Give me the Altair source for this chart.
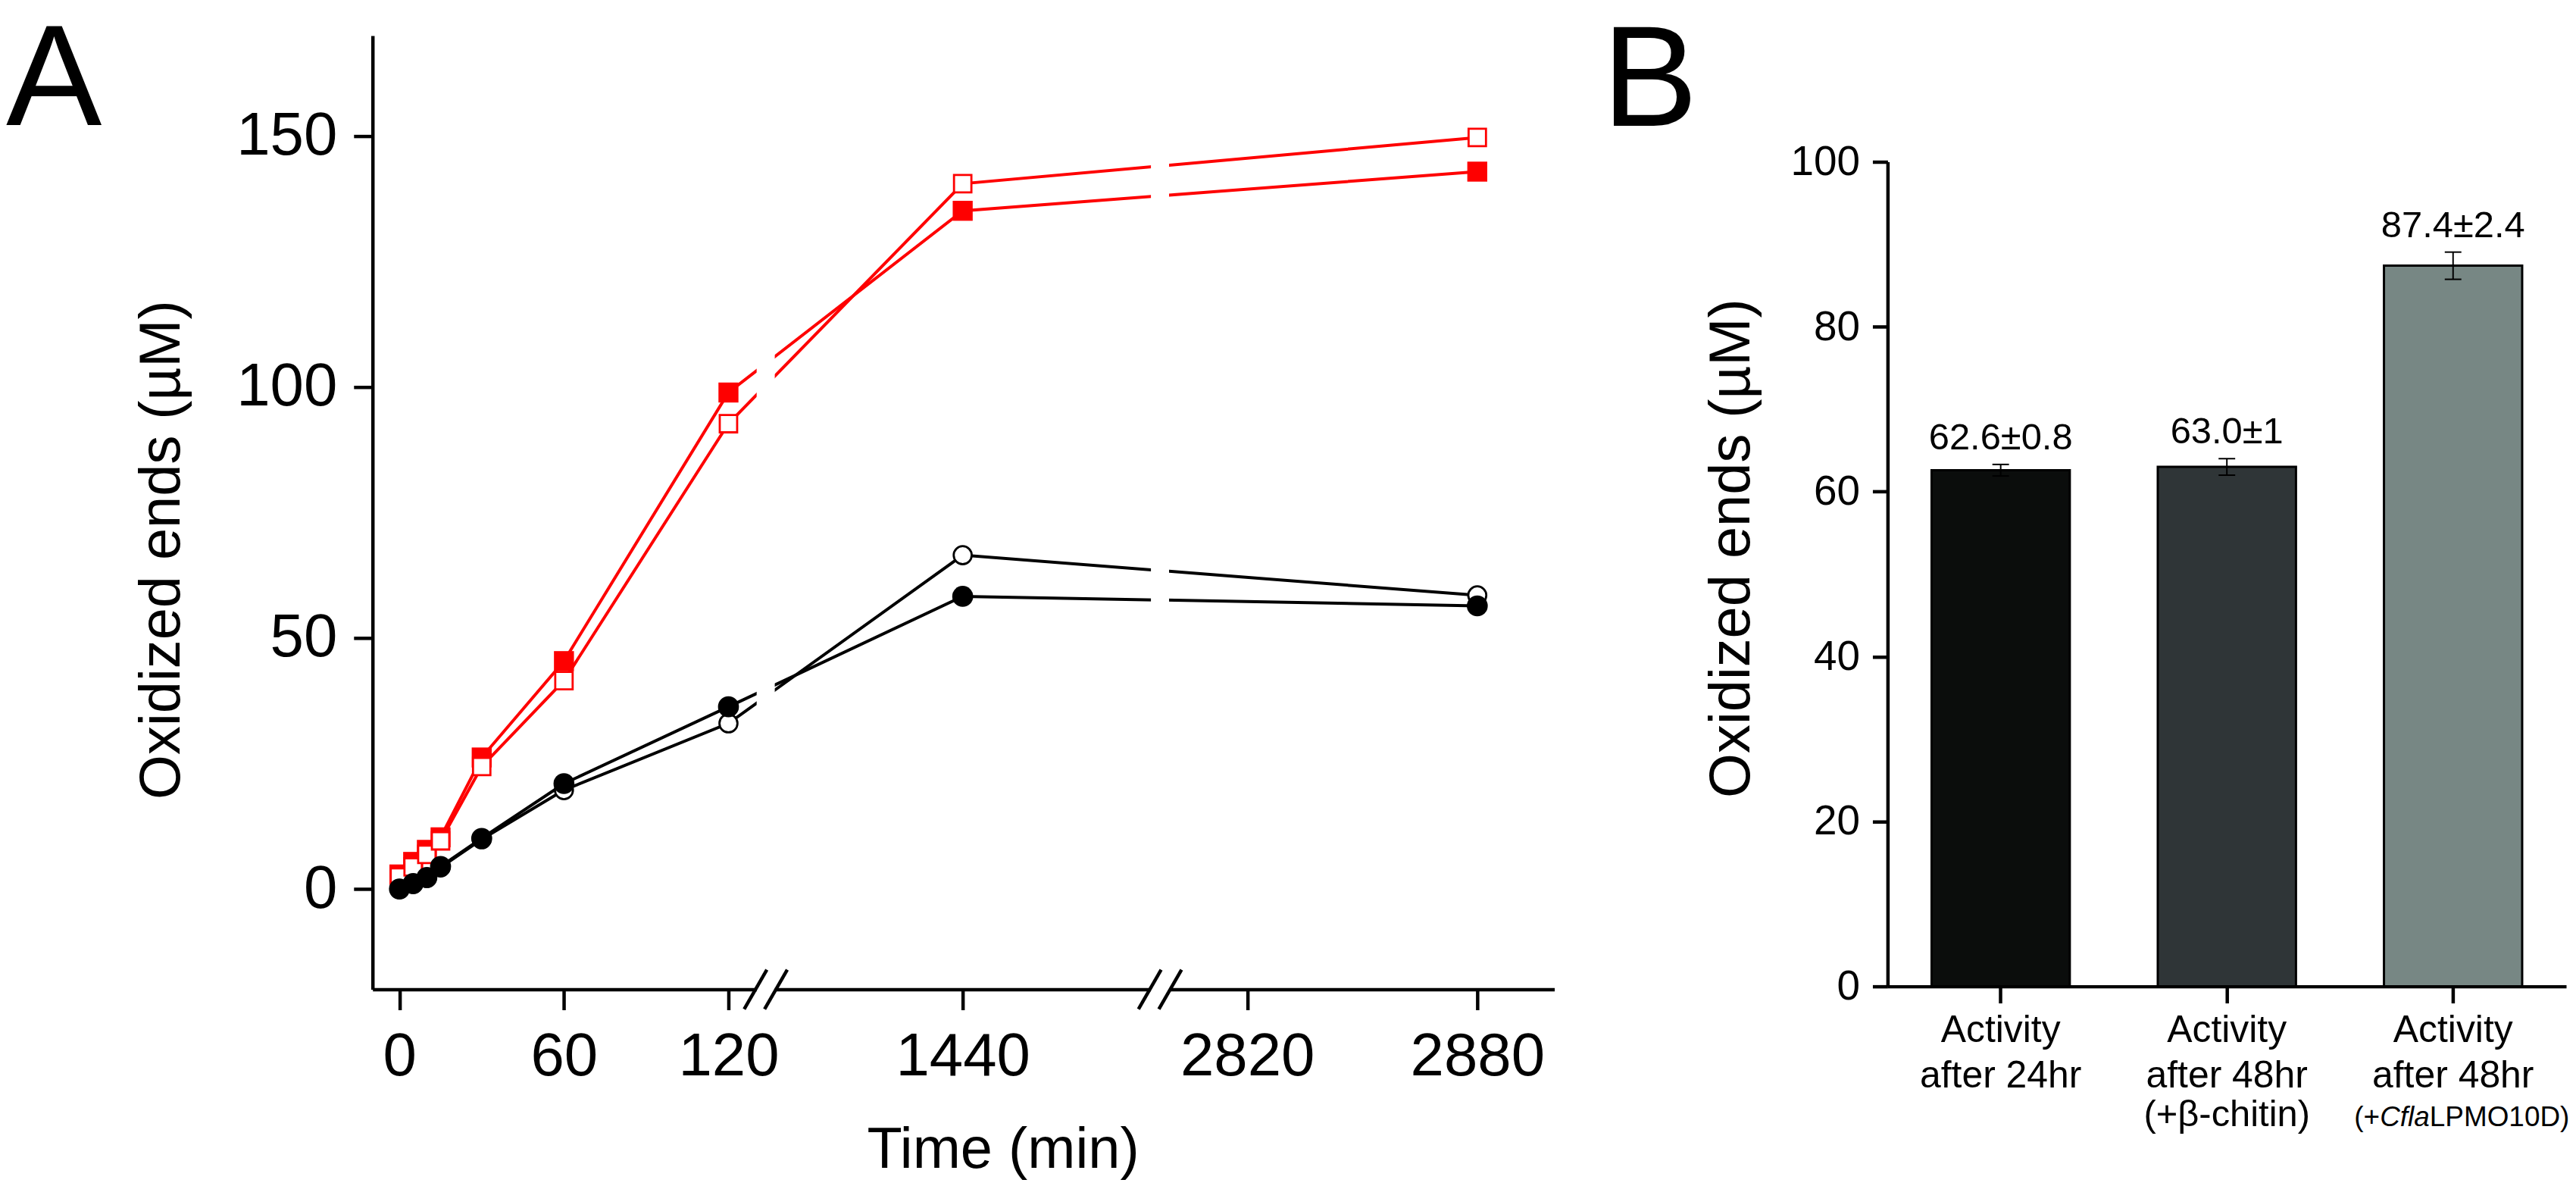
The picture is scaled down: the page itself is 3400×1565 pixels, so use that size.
import altair as alt
import pandas as pd

FONT = "Liberation Sans"
RED = "#fe0000"
BLACK = "#000000"

# ---------------- Panel A data ----------------
TIMES = [0, 5, 10, 15, 30, 60, 120, 1440, 2880]
RED_FILLED = [2.9, 5.4, 7.8, 10.3, 26.2, 45.4, 98.9, 135.1, 142.9]
RED_OPEN = [2.4, 4.4, 6.9, 9.6, 24.4, 41.5, 92.7, 140.5, 149.7]
BLACK_FILLED = [0.0, 1.1, 2.3, 4.5, 10.1, 21.0, 36.3, 58.3, 56.4]
BLACK_OPEN = [0.0, 1.0, 2.2, 4.3, 9.9, 19.7, 33.0, 66.5, 58.5]
SERIES = ["red_filled", "red_open", "black_open", "black_filled"]
X_TICKS = [0, 60, 120, 1440, 2820, 2880]
Y_TICKS_A = [0, 50, 100, 150]
AXIS_BREAKS = [330, 2397]
PANEL_LETTERS = ["A", "B"]

# ---------------- Panel B data ----------------
CATEGORIES = [
    "Activity after 24hr",
    "Activity after 48hr (+β-chitin)",
    "Activity after 48hr (+CflaLPMO10D)",
]
MEANS = [62.6, 63.0, 87.4]
ERRORS = [0.7, 1.0, 1.65]
BAR_LABELS = ["62.6±0.8", "63.0±1", "87.4±2.4"]
BAR_COLORS = ["#0b0d0c", "#2f3537", "#778784"]
Y_TICKS_B = [0, 20, 40, 60, 80, 100]
LABEL_LINE1 = ["Activity", "Activity", "Activity"]
LABEL_LINE2 = ["after 24hr", "after 48hr", "after 48hr"]
LABEL_LINE3 = ["", "(+β-chitin)", ""]
LABEL_LINE3_PARTS = ["(+", "Cfla", "LPMO10D)"]

# ---------------- Panel A ----------------
series_values = {
    "red_filled": RED_FILLED,
    "red_open": RED_OPEN,
    "black_open": BLACK_OPEN,
    "black_filled": BLACK_FILLED,
}
rows = []
for s in SERIES:
    for t, v in zip(TIMES, series_values[s]):
        rows.append({"series": s, "time": t, "value": v})
dfA = pd.DataFrame(rows)
df_breaks = pd.DataFrame({"time": AXIS_BREAKS})

WA, HA = 1564, 1262
x_scale_A = alt.Scale(
    domain=[-9.8, 0, 120, 1440, 2820, 2880, 2900],
    range=[0, 35.6, 471, 781, 1157.5, 1462, WA],
    nice=False, zero=False,
)
y_scale_A = alt.Scale(domain=[-20, 170], nice=False, zero=False)

axis_xA = alt.Axis(
    values=X_TICKS, format="d", title="Time (min)", grid=False,
    domainColor="black", domainWidth=4.5, tickColor="black", tickWidth=4.5, tickSize=27,
    labelFont=FONT, labelFontSize=80, labelColor="black", labelPadding=23,
    labelFlush=False, labelOverlap=False,
    titleFont=FONT, titleFontSize=76, titleFontWeight="normal", titleColor="black",
    titleX=834, titleY=236, titleAlign="center", titleBaseline="alphabetic",
)
axis_yA = alt.Axis(
    values=Y_TICKS_A, format="d", title="Oxidized ends (µM)", grid=False,
    domainColor="black", domainWidth=4.5, tickColor="black", tickWidth=4.5, tickSize=25,
    labelFont=FONT, labelFontSize=80, labelColor="black", labelPadding=22,
    labelOverlap=False,
    titleFont=FONT, titleFontSize=76, titleFontWeight="normal", titleColor="black",
    titleX=-256, titleY=680, titleAlign="center", titleBaseline="alphabetic", titleAngle=270,
)


def xa(field="time:Q"):
    return alt.X(field, scale=x_scale_A, axis=axis_xA)


def ya(field="value:Q"):
    return alt.Y(field, scale=y_scale_A, axis=axis_yA)


lines = alt.Chart(dfA).mark_line(strokeWidth=4).encode(
    x=xa(), y=ya(),
    color=alt.Color("series:N", scale=alt.Scale(domain=SERIES, range=[RED, RED, BLACK, BLACK]), legend=None),
    detail="series:N",
)

gaps = alt.Chart(df_breaks).mark_rect(
    color="white", opacity=1, xOffset=-12, x2Offset=12, yOffset=4
).encode(
    x=xa(), x2=alt.X2("time:Q"),
    y=alt.datum(-20), y2=alt.datum(170),
)

slash1 = alt.Chart(df_breaks).mark_rule(
    color="black", strokeWidth=4.5, xOffset=-28.5, x2Offset=1.5, yOffset=26, y2Offset=-26
).encode(x=xa(), x2=alt.X2("time:Q"), y=alt.datum(-20), y2=alt.datum(-20))

slash2 = alt.Chart(df_breaks).mark_rule(
    color="black", strokeWidth=4.5, xOffset=-1.5, x2Offset=28.5, yOffset=26, y2Offset=-26
).encode(x=xa(), x2=alt.X2("time:Q"), y=alt.datum(-20), y2=alt.datum(-20))


def points(series, shape, filled, size, color, stroke_w=0):
    base = alt.Chart(dfA).transform_filter(alt.datum.series == series)
    if filled:
        mk = base.mark_point(shape=shape, filled=True, size=size, color=color, opacity=1, strokeWidth=0)
    else:
        mk = base.mark_point(shape=shape, filled=False, size=size, stroke=color, fill="white",
                             fillOpacity=1, opacity=1, strokeWidth=stroke_w)
    return mk.encode(x=xa(), y=ya())


p_red_filled = points("red_filled", "square", True, 700, RED)
p_red_open = points("red_open", "square", False, 530, RED, 2.8)
p_black_open = points("black_open", "circle", False, 570, BLACK, 2.8)
p_black_filled = points("black_filled", "circle", True, 770, BLACK)

letterA = alt.Chart(pd.DataFrame({"letter": [PANEL_LETTERS[0]]})).mark_text(
    font=FONT, fontSize=190, align="left", baseline="alphabetic", color="black"
).encode(text="letter:N", x=alt.value(-485), y=alt.value(118))

panelA = alt.layer(
    lines, gaps, slash1, slash2, p_red_filled, p_red_open, p_black_open, p_black_filled, letterA
).properties(width=WA, height=HA)

# ---------------- Panel B ----------------
dfB = pd.DataFrame({
    "category": CATEGORIES,
    "mean": MEANS,
    "err": ERRORS,
    "label": BAR_LABELS,
    "line1": LABEL_LINE1,
    "line2": LABEL_LINE2,
    "line3": LABEL_LINE3,
})

WB, HB = 898, 1258
x_scale_B = alt.Scale(domain=CATEGORIES, paddingInner=0.389, paddingOuter=0.1945)
y_scale_B = alt.Scale(domain=[0, 100], range=[HB, 167], nice=False, zero=False)

axis_xB = alt.Axis(
    labels=False, title=None, grid=False,
    domainColor="black", domainWidth=4.5, tickColor="black", tickWidth=4.5, tickSize=22,
)
axis_yB = alt.Axis(
    values=Y_TICKS_B, format="d", title="Oxidized ends (µM)", grid=False,
    domainColor="black", domainWidth=4.5, tickColor="black", tickWidth=4.5, tickSize=20,
    labelFont=FONT, labelFontSize=55, labelColor="black", labelPadding=17,
    labelOverlap=False,
    titleFont=FONT, titleFontSize=76, titleFontWeight="normal", titleColor="black",
    titleX=-183, titleY=678, titleAlign="center", titleBaseline="alphabetic", titleAngle=270,
)


def xb():
    return alt.X("category:N", sort=CATEGORIES, scale=x_scale_B, axis=axis_xB)


def yb(field):
    return alt.Y(field, scale=y_scale_B, axis=axis_yB)


baseB = alt.Chart(dfB).transform_calculate(
    lo="datum.mean - datum.err", hi="datum.mean + datum.err"
)

bars = baseB.mark_bar(stroke="black", strokeWidth=3).encode(
    x=xb(), y=yb("mean:Q"),
    fill=alt.Fill("category:N", scale=alt.Scale(domain=CATEGORIES, range=BAR_COLORS), legend=None),
)
err_rule = baseB.mark_rule(color="black", strokeWidth=2).encode(
    x=xb(), y=yb("lo:Q"), y2=alt.Y2("hi:Q")
)
cap_lo = baseB.mark_tick(color="black", size=22, thickness=2, opacity=1).encode(x=xb(), y=yb("lo:Q"))
cap_hi = baseB.mark_tick(color="black", size=22, thickness=2, opacity=1).encode(x=xb(), y=yb("hi:Q"))
bar_text = baseB.mark_text(font=FONT, fontSize=49, dy=-20, baseline="alphabetic", color="black").encode(
    x=xb(), y=yb("hi:Q"), text="label:N"
)

lab1 = alt.Chart(dfB).mark_text(font=FONT, fontSize=50, baseline="alphabetic", color="black").encode(
    x=xb(), y=alt.value(1332), text="line1:N"
)
lab2 = alt.Chart(dfB).mark_text(font=FONT, fontSize=50, baseline="alphabetic", color="black").encode(
    x=xb(), y=alt.value(1392), text="line2:N"
)
lab3 = alt.Chart(dfB).transform_filter("datum.line3 != ''").mark_text(
    font=FONT, fontSize=49, baseline="alphabetic", color="black"
).encode(x=xb(), y=alt.value(1443), text="line3:N")

df_parts = pd.DataFrame({"category": [CATEGORIES[2]] * 3, "part": LABEL_LINE3_PARTS, "idx": [0, 1, 2]})
part0 = alt.Chart(df_parts).transform_filter("datum.idx == 0").mark_text(
    font=FONT, fontSize=37, baseline="alphabetic", align="right", dx=-97, color="black"
).encode(x=xb(), y=alt.value(1443), text="part:N")
part1 = alt.Chart(df_parts).transform_filter("datum.idx == 1").mark_text(
    font=FONT, fontSize=37, fontStyle="italic", baseline="alphabetic", align="right", dx=-31, color="black"
).encode(x=xb(), y=alt.value(1443), text="part:N")
part2 = alt.Chart(df_parts).transform_filter("datum.idx == 2").mark_text(
    font=FONT, fontSize=37, baseline="alphabetic", align="left", dx=-31, color="black"
).encode(x=xb(), y=alt.value(1443), text="part:N")

letterB = alt.Chart(pd.DataFrame({"letter": [PANEL_LETTERS[1]]})).mark_text(
    font=FONT, fontSize=190, align="left", baseline="alphabetic", color="black"
).encode(text="letter:N", x=alt.value(-378), y=alt.value(119))

panelB = alt.layer(
    bars, err_rule, cap_lo, cap_hi, bar_text, lab1, lab2, lab3, part0, part1, part2, letterB
).properties(width=WB, height=HB)

chart = alt.hconcat(panelA, panelB, spacing=63).resolve_scale(
    color="independent", fill="independent"
).properties(
    padding={"left": 0, "top": 3, "right": 0, "bottom": 0}
).configure(font=FONT).configure_view(stroke=None)

chart.save("out.html", embed_options={"renderer": "svg", "actions": False})
